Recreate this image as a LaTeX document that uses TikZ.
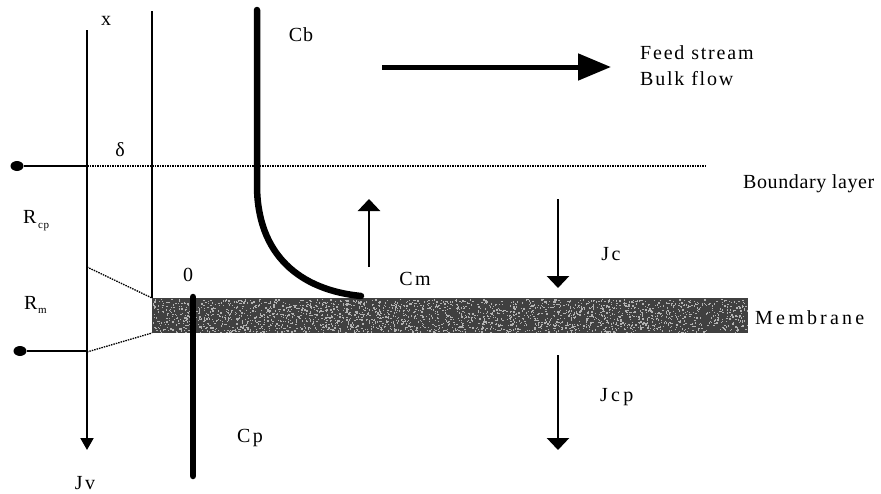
\documentclass[tikz,border=0pt]{standalone}
\usepackage{fontspec}
\setmainfont{Liberation Serif}[LetterSpace=4]
\usetikzlibrary{arrows.meta,shapes.geometric}
\begin{document}
\begin{tikzpicture}[x=1pt,y=-1pt,
  lbl/.style={inner sep=0pt, font=\fontsize{20}{24}\selectfont},
  sub/.style={inner sep=0pt, font=\fontsize{11}{13}\selectfont},
  axisline/.style={line width=2pt},
  conc/.style={line width=6.5pt, line cap=round},
  flux/.style={line width=2.6pt, -{Triangle[width=22pt,length=12pt]}},
  dotline/.style={line width=1.3pt, dash pattern=on 1.5pt off 1pt},
  terminal/.style={ellipse, fill=black, inner sep=0pt, minimum width=13pt, minimum height=10pt}]
\useasboundingbox (0,0) rectangle (881,493);
% coordinates
\coordinate (axtop) at (87,30);
\coordinate (axbot) at (87,450);
\coordinate (walltop) at (152,11);
\coordinate (mtl) at (152,298);
\coordinate (mbl) at (152,333);
\coordinate (mbr) at (748,333);
\coordinate (dtop) at (87,166);
\coordinate (dend) at (705,166);
\coordinate (rtop) at (87,267);
\coordinate (rbot) at (87,352);
\coordinate (bjoin) at (87,351);
% membrane
\fill[black!75] (mtl) rectangle (mbr);
\pgfmathsetseed{12345}
\foreach \i in {1,...,2400}{
  \pgfmathsetmacro{\rx}{153+594*rnd}
  \pgfmathsetmacro{\ry}{299+33*rnd}
  \fill[white!70!black] (\rx,\ry) rectangle ++(1.3,1.3);
}
% axis and wall
\draw[axisline, -{Triangle[width=13pt,length=12pt]}] (axtop) -- (axbot);
\draw[axisline] (walltop) -- (mtl);
% terminals
\node[terminal] (t1) at (17,166) {};
\node[terminal] (t2) at (20,351) {};
\draw[line width=1.8pt] (t1) -- (dtop);
\draw[line width=1.8pt] (t2) -- (bjoin);
% boundary layer dotted line
\draw[dotline] (dtop) -- (dend);
% resistance dotted lines
\draw[dotline] (rtop) -- (mtl);
\draw[dotline] (rbot) -- (mbl);
% concentration profiles
\draw[conc] (257,10) -- (257,185) .. controls (257,255) and (300,290) .. (361,296);
\draw[conc] (193,297) -- (193,476);
% feed arrow
\draw[line width=5pt, -{Triangle[width=26pt,length=33pt]}] (382,67) -- (611,67);
% flux arrows
\draw[flux] (369,267) -- (369,199);
\draw[flux] (558,199) -- (558,288);
\draw[flux] (558,355) -- (558,450);
% labels
\node[lbl] (lx) at (106,21) {x};
\node[lbl] (ld) at (120,150) {δ};
\node[lbl, anchor=west] (lr1) at (23,217) {R};
\node[sub, anchor=west] (lr1s) at (38,227) {cp};
\node[lbl, anchor=west] (lr2) at (24,303) {R};
\node[sub, anchor=west] (lr2s) at (38,311) {m};
\node[lbl] (l0) at (188,275) {0};
\node[lbl] (lcb) at (301,35) {Cb};
\node[lbl] (lcm) at (415,279) {\addfontfeature{LetterSpace=12}Cm};
\node[lbl] (ljc) at (611,254) {\addfontfeature{LetterSpace=12}Jc};
\node[lbl, anchor=west] (ljcp) at (600,397) {\addfontfeature{LetterSpace=16}Jcp};
\node[lbl] (lcp) at (250,438) {\addfontfeature{LetterSpace=12}Cp};
\node[lbl] (ljv) at (85,483) {\addfontfeature{LetterSpace=12}Jv};
\node[lbl, anchor=west] (lfeed) at (640,53) {\addfontfeature{LetterSpace=9}Feed stream};
\node[lbl, anchor=west] (lbulk) at (640,79) {\addfontfeature{LetterSpace=9}Bulk flow};
\node[lbl, anchor=west] (lbl) at (743,184) {\addfontfeature{LetterSpace=3}Boundary layer};
\node[lbl, anchor=west] (lmem) at (755,318) {\addfontfeature{LetterSpace=16}Membrane};
\end{tikzpicture}
\end{document}
